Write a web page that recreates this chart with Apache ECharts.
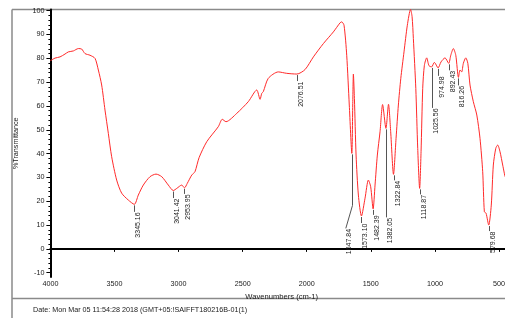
<!DOCTYPE html>
<html>
<head>
<meta charset="utf-8">
<style>
  html, body { margin: 0; padding: 0; background: #fff; }
  #chart { width: 505px; height: 318px; }
</style>
<script src="https://cdn.jsdelivr.net/npm/echarts@6/dist/echarts.min.js"></script>
</head>
<body>
<div id="chart"></div>
<script>
// spectrum, wavenumber (cm-1) / %T
var specWn = [4000, 3964, 3925, 3886, 3860, 3821, 3782, 3756, 3730, 3691, 3652, 3626, 3600, 3574, 3548, 3522, 3483, 3444, 3392, 3345,
  3314, 3275, 3223, 3176, 3131, 3080, 3041, 3014, 2975, 2954, 2932, 2897, 2872, 2840, 2780, 2690, 2659, 2630, 2546, 2456,
  2390, 2364, 2351, 2339, 2300, 2222, 2156, 2077, 2013, 1948, 1870, 1792, 1740, 1727, 1709, 1688, 1668, 1648, 1641, 1636,
  1628, 1615, 1597, 1573, 1545, 1519, 1501, 1482, 1467, 1449, 1428, 1408, 1382, 1362, 1345, 1323, 1303, 1285, 1266, 1241,
  1215, 1190, 1178, 1168, 1149, 1134, 1119, 1108, 1095, 1082, 1064, 1046, 1026, 1004, 975, 952, 921, 892, 876, 856,
  837, 816, 804, 791, 778, 759, 743, 726, 700, 673, 648, 627, 614, 601, 580, 560, 544, 525, 510, 492, 471, 453];
var specT = [79.0, 80.1, 80.6, 81.8, 82.7, 83.1, 84.1, 83.9, 82.0, 81.3, 80.0, 75.1, 68.8, 58.3, 48.5, 38.7, 28.9, 23.4, 20.5, 18.7,
  22.6, 26.8, 30.3, 31.4, 30.3, 26.8, 24.5, 25.4, 26.8, 25.6, 27.5, 31.0, 32.4, 38.3, 45.0, 51.3, 54.4, 53.4, 56.9, 61.8,
  66.7, 62.8, 65.3, 66.0, 71.6, 74.3, 73.7, 73.4, 75.3, 80.6, 86.2, 91.1, 94.9, 95.3, 93.9, 81.3, 60.4, 40.1, 60.4, 73.4,
  63.2, 39.4, 22.6, 13.8, 21.3, 28.9, 26.1, 16.8, 26.8, 39.4, 49.2, 60.6, 50.6, 60.7, 49.2, 31.3, 46.4, 60.4, 71.6, 82.7,
  93.9, 100.5, 97.5, 88.3, 67.4, 42.2, 25.4, 40.8, 67.4, 77.1, 80.2, 76.9, 76.4, 78.3, 76.0, 78.5, 80.2, 77.9, 81.3, 84.1,
  81.3, 72.0, 75.1, 74.3, 77.9, 80.2, 77.9, 68.8, 61.8, 56.2, 46.4, 32.4, 15.6, 15.0, 10.0, 18.4, 35.2, 42.2, 43.6, 40.8, 35.2, 30.3];

// marked peaks
var peakWn = [3345.16, 3041.42, 2953.95, 2076.51, 1647.84, 1573.10, 1482.39, 1382.05, 1322.84, 1118.87, 1025.56, 974.98, 892.43, 816.26, 579.68];
var peakT = [18.7, 24.5, 25.6, 73.4, 40.1, 13.8, 16.8, 50.6, 31.3, 25.4, 76.4, 76.0, 77.9, 72.0, 10.0];

var xTicks = [500, 1000, 1500, 2000, 2500, 3000, 3500, 4000];
var yTicks = [-10, 0, 10, 20, 30, 40, 50, 60, 70, 80, 90, 100];

// leader line layout (px): first drop, sideways shift, second drop
var leaderLen = [6.5, 6.5, 5, 6, 51, 6, 5, 88, 5, 5, 40, 7, 6, 7, 5];
var leaderDx = [0, 0, 0, 0, -6.7, 0, 0, 0, 0, 0, 0, 0, 0, 0, 0];
var leaderLen2 = [0, 0, 0, 0, 23, 0, 0, 0, 0, 0, 0, 0, 0, 0, 0];

var FONT = 'Liberation Sans, Arial, sans-serif';

var yMinor = [];
for (var v = -10; v <= 100; v += 2) {
  if (v % 10 !== 0) yMinor.push(v);
}

var specData = specWn.map(function (w, i) { return [w, specT[i]]; });
var peakData = peakWn.map(function (w, i) {
  return [w, peakT[i], leaderLen[i], leaderDx[i], leaderLen2[i]];
});

function plain(val) { return String(val); }

var chart = echarts.init(document.getElementById('chart'));

var option = {
  backgroundColor: '#fff',
  animation: false,
  grid: { left: 50.4, right: 0, top: 9.5, bottom: 41, containLabel: false, outerBoundsMode: 'none' },
  xAxis: {
    type: 'value',
    min: 453,
    max: 4000,
    inverse: true,
    name: 'Wavenumbers (cm-1)',
    nameLocation: 'middle',
    nameGap: 15,
    nameTextStyle: { fontSize: 7.6, color: '#1a1a1a', fontFamily: FONT, padding: [0, 0, 0, 8] },
    axisLine: { show: true, lineStyle: { color: '#000', width: 2 } },
    axisTick: { show: true, length: 3, customValues: xTicks, lineStyle: { color: '#000' } },
    axisLabel: { customValues: xTicks, formatter: plain, fontSize: 7.2, color: '#1a1a1a', fontFamily: FONT, margin: 4 },
    splitLine: { show: false }
  },
  yAxis: [{
    type: 'value',
    min: -11.8,
    max: 100.5,
    name: '%Transmittance',
    nameLocation: 'middle',
    nameGap: 31,
    nameRotate: 90,
    nameTextStyle: { fontSize: 7.2, color: '#1a1a1a', fontFamily: FONT },
    axisLine: { show: true, lineStyle: { color: '#000', width: 2 } },
    axisTick: { show: true, length: 4, customValues: yTicks, lineStyle: { color: '#000' } },
    axisLabel: { customValues: yTicks, formatter: plain, fontSize: 7.2, color: '#1a1a1a', fontFamily: FONT, margin: 6 },
    splitLine: { show: false }
  }, {
    type: 'value',
    min: -11.8,
    max: 100.5,
    position: 'left',
    axisLine: { show: false },
    axisTick: { show: true, length: 2, customValues: yMinor, lineStyle: { color: '#000' } },
    axisLabel: { show: false },
    splitLine: { show: false }
  }],
  series: [{
    type: 'line',
    data: specData,
    showSymbol: false,
    smooth: 0.25,
    lineStyle: { color: '#ff2a2a', width: 1 },
    silent: true
  }, {
    type: 'custom',
    clip: false,
    silent: true,
    data: peakData,
    renderItem: function (params, api) {
      var p = api.coord([api.value(0), api.value(1)]);
      var x0 = Math.round(p[0]) + 0.5;
      var y0 = p[1] + 1;
      var p1 = [x0, y0 + api.value(2)];
      var p2 = [p1[0] + api.value(3), p1[1] + api.value(4)];
      return {
        type: 'group',
        children: [{
          type: 'polyline',
          shape: { points: [[x0, y0], p1, p2] },
          style: { stroke: '#555', lineWidth: 1, fill: null }
        }, {
          type: 'text',
          x: p2[0] + 3.5,
          y: p2[1] + 0.5,
          rotation: Math.PI / 2,
          style: {
            text: peakWn[params.dataIndex].toFixed(2),
            fontSize: 7,
            fontFamily: FONT,
            fill: '#1a1a1a',
            align: 'right',
            verticalAlign: 'middle'
          }
        }]
      };
    }
  }],
  graphic: [
    { type: 'line', shape: { x1: 12, y1: 9.5, x2: 505, y2: 9.5 }, style: { stroke: '#8a8a8a', lineWidth: 1.5 } },
    { type: 'line', shape: { x1: 12, y1: 9.5, x2: 12, y2: 318 }, style: { stroke: '#8a8a8a', lineWidth: 1.5 } },
    { type: 'line', shape: { x1: 12, y1: 298.5, x2: 505, y2: 298.5 }, style: { stroke: '#8a8a8a', lineWidth: 1.5 } },
    {
      type: 'text', left: 33, top: 307,
      style: { text: 'Date: Mon Mar 05 11:54:28 2018 (GMT+05:!SAIFFT180216B-01(1)', fontSize: 7.2, fontFamily: FONT, fill: '#1a1a1a' }
    }
  ]
};

chart.setOption(option);
</script>
</body>
</html>
